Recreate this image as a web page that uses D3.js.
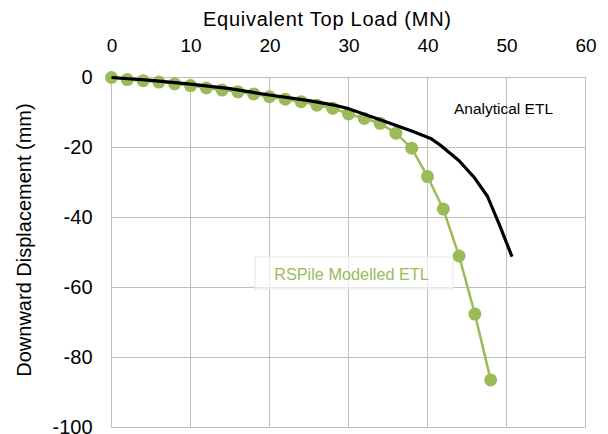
<!DOCTYPE html>
<html>
<head>
<meta charset="utf-8">
<script src="https://cdn.jsdelivr.net/npm/d3@7"></script>
<style>
  body { margin: 0; background: #fff; }
  text { font-family: "Liberation Sans", Arial, sans-serif; }
</style>
</head>
<body>
<div id="chart"></div>
<script>
// RSPile modelled ETL (every 2 MN)
var rspLoad = [0, 2, 4, 6, 8, 10, 12, 14, 16, 18, 20, 22, 24, 26, 28, 30, 32, 34, 36, 38, 40, 42, 44, 46, 48];
var rspDisp = [0, -0.6, -0.9, -1.3, -1.8, -2.3, -3.0, -3.6, -4.1, -4.7, -5.5, -6.2, -6.9, -7.9, -8.8, -10.4, -11.7, -13.1, -15.9, -20.2, -28.3, -37.6, -51.0, -67.6, -86.4];

// analytical ETL
var anaLoad = [0, 5, 10, 15, 20, 25, 28, 30, 34, 38, 40.4, 41.6, 44, 46, 47.6, 49.2, 50.7];
var anaDisp = [0, -0.8, -1.9, -3.2, -5.0, -6.6, -7.8, -8.9, -12.1, -15.3, -17.4, -19.3, -23.8, -28.8, -34.0, -42.6, -51.2];

var xTicks = [0, 10, 20, 30, 40, 50, 60];
var yTicks = [0, -20, -40, -60, -80, -100];

var width = 608, height = 434;
var green = "#9bbb59";

var svg = d3.select("#chart").append("svg")
  .attr("width", width).attr("height", height);

var x = d3.scaleLinear().domain([0, 60]).range([111.5, 585.5]);
var y = d3.scaleLinear().domain([0, -100]).range([77.5, 427.5]);

// grid
var grid = svg.append("g").attr("class", "grid");
grid.selectAll("line.v").data(xTicks).enter().append("line")
  .attr("x1", function(d) { return x(d); })
  .attr("x2", function(d) { return x(d); })
  .attr("y1", y(0)).attr("y2", y(-100))
  .attr("stroke", "#bfbfbf").attr("stroke-width", 1);
grid.selectAll("line.h").data(yTicks).enter().append("line")
  .attr("y1", function(d) { return y(d); })
  .attr("y2", function(d) { return y(d); })
  .attr("x1", x(0)).attr("x2", x(60))
  .attr("stroke", "#bfbfbf").attr("stroke-width", 1);

// axes (labels only)
var xAxis = svg.append("g")
  .attr("transform", "translate(0," + 45 + ")")
  .call(d3.axisTop(x).tickValues(xTicks).tickSize(0).tickPadding(0));
xAxis.select(".domain").remove();
xAxis.selectAll("text")
  .attr("font-size", 19).attr("fill", "#000")
  .attr("dy", "0.35em")
  .style("font-family", "'Liberation Sans', Arial, sans-serif");

var yAxis = svg.append("g")
  .attr("transform", "translate(" + 92.5 + ",0)")
  .call(d3.axisLeft(y).tickValues(yTicks).tickSize(0).tickPadding(0)
    .tickFormat(function(d) { return String(d); }));
yAxis.select(".domain").remove();
yAxis.selectAll("text")
  .attr("font-size", 20).attr("fill", "#000")
  .style("font-family", "'Liberation Sans', Arial, sans-serif");

// axis titles
svg.append("text")
  .attr("x", 327).attr("y", 19).attr("dy", "0.35em")
  .attr("text-anchor", "middle").attr("font-size", 20)
  .attr("textLength", 248).attr("lengthAdjust", "spacing")
  .text("Equivalent Top Load (MN)");
svg.append("text")
  .attr("transform", "translate(24,240) rotate(-90)")
  .attr("dy", "0.35em")
  .attr("text-anchor", "middle").attr("font-size", 20)
  .text("Downward Displacement (mm)");

// label box for RSPile
svg.append("rect")
  .attr("x", 255).attr("y", 257).attr("width", 198).attr("height", 32)
  .attr("fill", "#fff").attr("fill-opacity", 0.65)
  .attr("stroke", "#e6e6e6").attr("stroke-width", 1);

// RSPile series
var rsp = rspLoad.map(function(d, i) { return [d, rspDisp[i]]; });
var line = d3.line().x(function(d) { return x(d[0]); }).y(function(d) { return y(d[1]); });

svg.append("path").datum(rsp)
  .attr("d", line).attr("fill", "none")
  .attr("stroke", green).attr("stroke-width", 2.5);
svg.selectAll("circle.rsp").data(rsp).enter().append("circle")
  .attr("cx", function(d) { return x(d[0]); })
  .attr("cy", function(d) { return y(d[1]); })
  .attr("r", 6.5).attr("fill", green);

// analytical series
var ana = anaLoad.map(function(d, i) { return [d, anaDisp[i]]; });
svg.append("path").datum(ana)
  .attr("d", line).attr("fill", "none")
  .attr("stroke", "#000").attr("stroke-width", 3.2)
  .attr("stroke-linejoin", "round");

// series labels
svg.append("text")
  .attr("x", 503.5).attr("y", 109).attr("dy", "0.35em")
  .attr("text-anchor", "middle").attr("font-size", 15.5)
  .text("Analytical ETL");
svg.append("text")
  .attr("x", 351.5).attr("y", 274).attr("dy", "0.35em")
  .attr("text-anchor", "middle").attr("font-size", 16.3)
  .attr("fill", green)
  .text("RSPile Modelled ETL");
</script>
</body>
</html>
